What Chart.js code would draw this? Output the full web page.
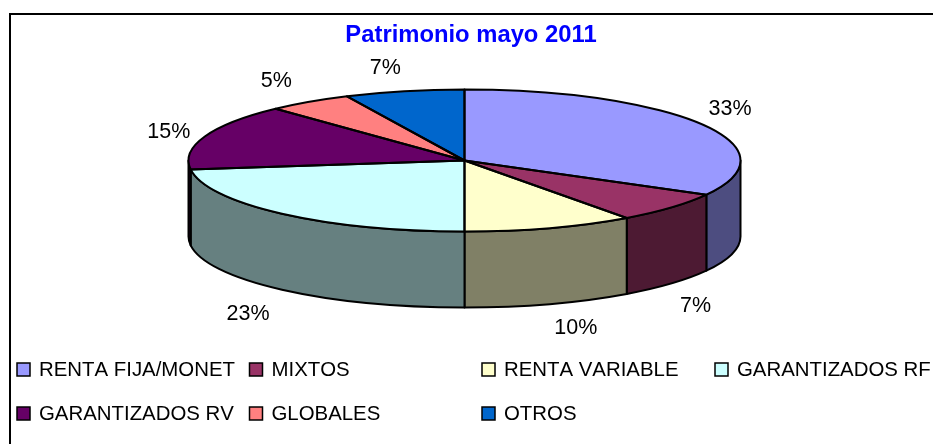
<!DOCTYPE html>
<html>
<head>
<meta charset="utf-8">
<title>Patrimonio mayo 2011</title>
<script src="https://cdn.jsdelivr.net/npm/chart.js@4"></script>
<style>
html, body { margin: 0; padding: 0; background: #fff; overflow: hidden; }
canvas { display: block; }
</style>
</head>
<body>
<canvas id="patrimonio" width="933" height="444"></canvas>
<script>
var categories = ["RENTA FIJA/MONET", "MIXTOS", "RENTA VARIABLE", "GARANTIZADOS RF", "GARANTIZADOS RV", "GLOBALES", "OTROS"];
var values = [33, 7, 10, 23, 15, 5, 7];
var colors = ["#9999FF", "#993366", "#FFFFCC", "#CCFFFF", "#660066", "#FF8080", "#0066CC"];
var wallColors = ["#4D4D80", "#4D1A33", "#808066", "#668080", "#330033", "#804040", "#003366"];

// flattened pie geometry
var pie = { cx: 464.5, cy: 160.5, rx: 276, ry: 71, depth: 76 };
// label shift from the slice rim
var labelShift = [[28, -15], [24, 23], [26, 24], [-34, 24], [-36, -4], [-33, -21], [-19, -23]];
var legendCols = [17, 249.5, 482, 715];
var legendRows = [370, 414];
var textFont = '"Liberation Sans", Arial, sans-serif';

var flatPie = {
    id: "flatPie",
    beforeDraw: function(chart){
        // frame runs off the right and bottom of the picture
        var ctx = chart.ctx;
        ctx.save();
        ctx.strokeStyle = "#000";
        ctx.lineWidth = 2;
        ctx.strokeRect(10, 14, 1200, 800);
        ctx.restore();
    },
    beforeDatasetDraw: function(chart){
        var ctx = chart.ctx;
        var arcs = chart.getDatasetMeta(0).data;

        // side walls, only the front half of the pie shows them
        ctx.save();
        ctx.lineWidth = 2;
        ctx.strokeStyle = "#000";
        ctx.lineJoin = "round";
        for(var i = 0; i < arcs.length; i++){
            var s = Math.max(arcs[i].startAngle, 0);
            var e = Math.min(arcs[i].endAngle, Math.PI);
            if(s < e){
                ctx.beginPath();
                ctx.ellipse(pie.cx, pie.cy, pie.rx, pie.ry, 0, s, e);
                ctx.ellipse(pie.cx, pie.cy + pie.depth, pie.rx, pie.ry, 0, e, s, true);
                ctx.closePath();
                ctx.fillStyle = wallColors[i];
                ctx.fill();
                ctx.stroke();
            }
        }
        ctx.restore();

        // squash the library's arcs into the top face
        ctx.save();
        ctx.translate(pie.cx, pie.cy);
        ctx.scale(1, pie.ry / pie.rx);
        ctx.translate(-arcs[0].x, -arcs[0].y);
    },
    afterDatasetDraw: function(chart){
        var ctx = chart.ctx;
        var arcs = chart.getDatasetMeta(0).data;
        ctx.restore();

        // outlines kept out of the squash so the line width stays even
        ctx.save();
        ctx.lineWidth = 2;
        ctx.strokeStyle = "#000";
        ctx.lineJoin = "round";
        for(var i = 0; i < arcs.length; i++){
            ctx.beginPath();
            ctx.moveTo(pie.cx, pie.cy);
            ctx.ellipse(pie.cx, pie.cy, pie.rx, pie.ry, 0, arcs[i].startAngle, arcs[i].endAngle);
            ctx.closePath();
            ctx.stroke();
        }
        ctx.restore();
    },
    afterDraw: function(chart){
        var ctx = chart.ctx;
        var arcs = chart.getDatasetMeta(0).data;
        ctx.save();
        ctx.fillStyle = "#000";
        ctx.textBaseline = "middle";

        // percent labels
        ctx.font = "21.5px " + textFont;
        ctx.textAlign = "center";
        for(var i = 0; i < arcs.length; i++){
            var mid = (arcs[i].startAngle + arcs[i].endAngle) / 2;
            var x = pie.cx + pie.rx * Math.cos(mid);
            var y = pie.cy + pie.ry * Math.sin(mid);
            if(Math.sin(mid) > 0){
                y += pie.depth;
            }
            ctx.fillText(values[i] + "%", x + labelShift[i][0], y + labelShift[i][1]);
        }

        // legend in fixed columns, the last one is cut by the edge
        ctx.font = "20.4px " + textFont;
        ctx.fontKerning = "none";
        ctx.textAlign = "left";
        ctx.lineWidth = 1.5;
        ctx.strokeStyle = "#000";
        for(var k = 0; k < categories.length; k++){
            var lx = legendCols[k % 4];
            var ly = legendRows[Math.floor(k / 4)];
            ctx.fillStyle = colors[k];
            ctx.fillRect(lx, ly - 7, 13, 13);
            ctx.strokeRect(lx, ly - 7, 13, 13);
            ctx.fillStyle = "#000";
            ctx.fillText(categories[k], lx + 22, ly);
        }
        ctx.restore();
    }
};

var ctx = document.getElementById("patrimonio");

var myData = {
    labels: categories,
    datasets: [{
        data: values,
        backgroundColor: colors,
        borderWidth: 0,
        clip: false
    }]
};

var graph = new Chart(ctx, {
    type: "pie",
    data: myData,
    plugins: [flatPie],
    options: {
        responsive: false,
        animation: false,
        radius: pie.rx,
        layout: { padding: { left: 9, right: 0, top: 0, bottom: 0 } },
        plugins: {
            legend: { display: false },
            tooltip: { enabled: false },
            title: {
                display: true,
                text: "Patrimonio mayo 2011",
                color: "#0000FF",
                font: { family: textFont, size: 23.8, weight: "bold", lineHeight: 1.2 },
                padding: { top: 21, bottom: 0 }
            }
        }
    }
});
</script>
</body>
</html>
